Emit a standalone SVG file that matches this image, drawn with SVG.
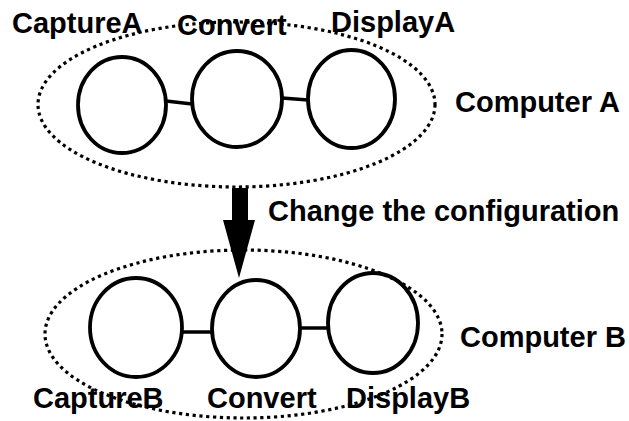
<svg xmlns="http://www.w3.org/2000/svg" width="629" height="421" viewBox="0 0 629 421">
  <style>
    .lbl { font-family: "Liberation Sans", Arial, sans-serif; font-weight: bold; font-size: 29px; fill: #000; }
    .proc { fill: none; stroke: #000; stroke-width: 3.8; }
    .host { fill: none; stroke: #000; stroke-width: 3.2; stroke-dasharray: 3.2 3.6; }
    .link { stroke: #000; stroke-width: 3.5; fill: none; }
  </style>
  <rect width="629" height="421" fill="#fff"/>

  <!-- Computer A: three process nodes -->
  <g id="captureA">
    <ellipse class="proc" cx="122" cy="105" rx="44" ry="48"/>
    <text class="lbl" x="12" y="33">CaptureA</text>
  </g>
  <g id="convertA">
    <ellipse class="proc" cx="237" cy="99" rx="45" ry="48"/>
    <text class="lbl" x="177" y="35">Convert</text>
  </g>
  <g id="displayA">
    <ellipse class="proc" cx="351.5" cy="99" rx="43.5" ry="49"/>
    <text class="lbl" x="331" y="32">DisplayA</text>
  </g>

  <!-- Computer B: three process nodes -->
  <g id="captureB">
    <ellipse class="proc" cx="136" cy="327.5" rx="46" ry="49.5"/>
    <text class="lbl" x="33" y="408">CaptureB</text>
  </g>
  <g id="convertB">
    <ellipse class="proc" cx="256" cy="328.5" rx="44" ry="48.5"/>
    <text class="lbl" x="207" y="408">Convert</text>
  </g>
  <g id="displayB">
    <ellipse class="proc" cx="373" cy="323" rx="45" ry="50"/>
    <text class="lbl" x="346" y="408">DisplayB</text>
  </g>

  <!-- connectors -->
  <g id="connectors">
    <line class="link" x1="166" y1="101" x2="192" y2="104"/>
    <line class="link" x1="282" y1="98" x2="308" y2="100"/>
    <line class="link" x1="182" y1="332" x2="212" y2="332"/>
    <line class="link" x1="300" y1="328" x2="328" y2="328"/>
    <!-- reconfiguration arrow -->
    <polygon points="232,188 248,188 248,220 255,220 239,278 223,220 232,220" fill="#000"/>
  </g>

  <!-- machine boundaries -->
  <g id="computerA">
    <ellipse class="host" cx="236.5" cy="104.5" rx="198.5" ry="82.5"/>
    <text class="lbl" x="455" y="112">Computer A</text>
  </g>
  <g id="computerB">
    <ellipse class="host" cx="243.5" cy="334" rx="198.5" ry="84"/>
    <text class="lbl" x="460" y="347">Computer B</text>
  </g>

  <text id="change-label" class="lbl" x="268" y="221">Change the configuration</text>
</svg>
